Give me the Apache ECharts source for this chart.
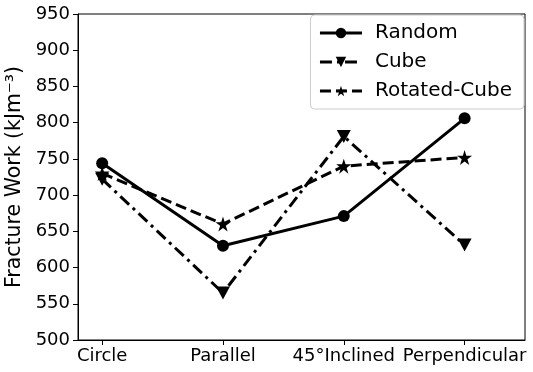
<!DOCTYPE html>
<html>
<head>
<meta charset="utf-8">
<script src="https://cdn.jsdelivr.net/npm/echarts@6/dist/echarts.min.js"></script>
<style>html,body{margin:0;padding:0;background:#fff;}#c{width:533px;height:372px;}</style>
</head>
<body>
<div id="c"></div>
<script>
const categories = ['Circle', 'Parallel', '45°Inclined', 'Perpendicular'];
const randomVals = [744, 630, 671, 806];
const cubeVals = [722, 565, 781, 631];
const rotatedVals = [730, 660, 740, 752];
const yTicks = [500, 550, 600, 650, 700, 750, 800, 850, 900, 950];

const STAR = 'path://M50 0L61.2 34.6L97.6 34.5L68.1 55.9L79.4 90.5L50 69L20.6 90.5L31.9 55.9L2.4 34.5L38.8 34.6Z';
const font = 'DejaVu Sans';
const idx = categories.map((_, i) => i);
const pts = vals => vals.map((v, i) => [i, v]);

const chart = echarts.init(document.getElementById('c'), null, {renderer: 'canvas'});
chart.setOption({
  animation: false,
  backgroundColor: '#fff',
  grid: {left: 78, right: 8, top: 14, bottom: 32, show: true, borderColor: '#000', borderWidth: 1,
         backgroundColor: 'transparent', outerBoundsMode: 'none', containLabel: false},
  legend: {
    orient: 'vertical', right: 9, top: 15,
    backgroundColor: 'rgba(255,255,255,0.8)', borderColor: '#ccc', borderWidth: 1, borderRadius: 4,
    padding: [7, 12, 7, 8],
    itemWidth: 42, itemHeight: 13, itemGap: 7,
    lineStyle: {width: 3, type: 'inherit'},
    textStyle: {fontFamily: font, fontSize: 20, color: '#000', lineHeight: 22, padding: [0, 0, 0, 8]},
    data: ['Random', 'Cube', 'Rotated-Cube']
  },
  xAxis: {
    type: 'value', min: -0.2, max: 3.5,
    axisLine: {show: true, onZero: false, lineStyle: {color: '#000', width: 1}},
    axisTick: {show: true, customValues: idx, length: 5, lineStyle: {color: '#000'}},
    axisLabel: {customValues: idx, formatter: v => categories[Math.round(v)] || '', fontFamily: font, fontSize: 18, color: '#000', margin: 7},
    splitLine: {show: false}
  },
  yAxis: {
    type: 'value', min: yTicks[0], max: yTicks[yTicks.length - 1], interval: 50,
    name: 'Fracture Work (kJm⁻³)', nameLocation: 'middle', nameGap: 47,
    nameTextStyle: {fontFamily: font, fontSize: 20.5, color: '#000'},
    axisLine: {show: true, onZero: false, lineStyle: {color: '#000', width: 1}},
    axisTick: {show: true, length: 5, lineStyle: {color: '#000'}},
    axisLabel: {fontFamily: font, fontSize: 18, color: '#000', margin: 8},
    splitLine: {show: false}
  },
  series: [
    {name: 'Random', type: 'line', data: pts(randomVals), symbol: 'circle', symbolSize: 12,
     lineStyle: {color: '#000', width: 3, type: 'solid'}, itemStyle: {color: '#000'}},
    {name: 'Cube', type: 'line', data: pts(cubeVals), symbol: 'triangle', symbolRotate: 180, symbolSize: [14, 13],
     lineStyle: {color: '#000', width: 3, type: [12, 5, 3, 5]}, itemStyle: {color: '#000'}},
    {name: 'Rotated-Cube', type: 'line', data: pts(rotatedVals), symbol: STAR, symbolSize: 15,
     lineStyle: {color: '#000', width: 3, type: [11, 5]}, itemStyle: {color: '#000'}}
  ]
});
</script>
</body>
</html>
